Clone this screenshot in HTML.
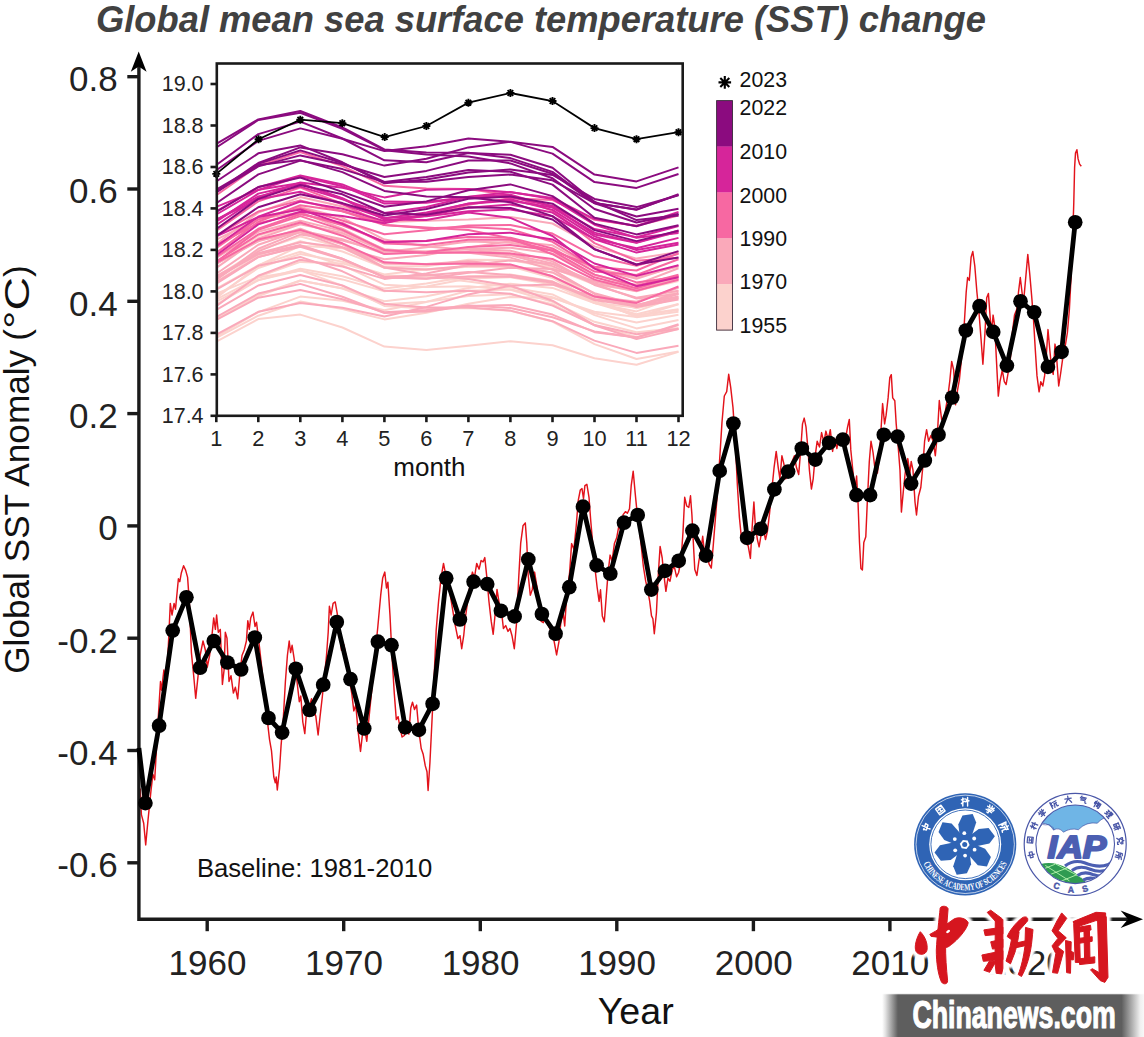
<!DOCTYPE html>
<html><head><meta charset="utf-8"><title>Global mean SST change</title>
<style>
html,body{margin:0;padding:0;background:#fff;}
body{width:1144px;height:1037px;overflow:hidden;font-family:"Liberation Sans",sans-serif;}
svg{display:block}
text{font-family:"Liberation Sans",sans-serif;}
</style></head><body>
<svg width="1144" height="1037" viewBox="0 0 1144 1037">
<rect width="1144" height="1037" fill="#fff"/>
<text x="96" y="31.5" font-size="36.3" font-weight="bold" font-style="italic" fill="#414141" textLength="890" lengthAdjust="spacingAndGlyphs">Global mean sea surface temperature (SST) change</text>
<polyline points="140.2,788.5 141.4,814.6 143.7,823.2 145.7,844.9 148.0,820.3 150.9,791.4 152.9,774.1 154.7,779.8 156.7,745.1 158.7,710.4 160.5,681.5 161.6,690.2 163.9,669.9 166.2,678.6 168.3,646.8 170.3,603.4 172.0,615.0 174.1,603.4 175.5,609.2 178.4,578.8 179.8,581.7 181.3,573.0 183.6,565.8 185.6,570.1 187.6,577.4 189.4,603.4 191.4,652.6 193.7,675.7 195.7,698.3 198.1,675.7 200.1,655.5 203.0,641.0 205.3,649.7 207.3,667.0 209.6,655.5 211.7,638.1 213.7,617.9 215.4,629.4 216.6,615.0 218.3,632.3 220.3,629.4 222.4,684.4 224.1,669.9 225.3,632.3 227.0,638.1 229.0,681.5 231.0,675.7 233.4,693.1 235.4,687.3 237.7,698.8 239.7,675.7 242.0,655.5 244.3,649.7 246.4,641.0 247.8,620.7 249.3,629.4 250.7,617.9 253.0,612.1 255.0,626.5 256.5,622.2 258.8,641.0 261.7,667.0 264.6,696.0 267.5,722.0 269.5,739.3 271.5,750.9 273.8,777.0 275.3,782.7 276.2,777.0 277.3,790.0 279.6,768.3 281.1,745.1 283.1,722.0 285.4,681.5 287.4,655.5 289.2,641.0 290.6,652.6 292.1,645.3 294.1,658.4 297.0,681.5 299.3,701.7 300.8,696.0 302.8,722.0 304.8,733.6 306.2,716.2 308.6,710.4 311.5,698.8 313.8,710.4 315.8,716.2 318.1,735.0 320.1,716.2 322.4,696.0 324.5,675.7 326.5,655.5 328.2,632.3 329.4,606.3 331.1,615.0 333.1,603.4 335.2,601.9 337.5,615.0 339.3,624.1 341.4,650.2 343.7,644.4 346.0,656.0 348.9,676.2 351.8,693.6 353.8,710.9 355.8,705.1 358.1,731.2 360.5,751.4 362.5,734.1 364.5,728.3 366.8,741.3 369.1,716.7 372.0,687.8 374.9,656.0 377.8,627.0 380.7,595.2 382.7,577.9 384.8,572.1 386.5,588.0 387.9,582.2 390.0,615.5 392.0,656.0 394.3,693.6 396.3,719.6 398.1,716.7 400.1,728.3 402.1,737.0 404.4,735.5 406.7,728.3 408.8,734.1 410.8,708.0 412.5,702.2 414.5,709.5 416.6,705.1 418.9,731.2 421.2,748.5 423.2,754.3 425.3,765.9 427.0,771.7 428.1,790.5 429.9,763.0 431.9,722.5 433.9,682.0 436.2,629.9 438.6,601.0 440.6,582.2 442.0,572.1 443.5,563.4 444.9,570.6 447.2,577.9 449.3,589.4 452.2,606.8 455.0,624.1 457.9,638.6 460.0,635.7 461.7,648.7 463.7,635.7 465.7,615.5 468.1,598.1 470.4,582.2 472.4,572.1 474.4,577.9 476.7,563.4 479.1,569.2 481.1,560.5 483.1,561.9 484.8,557.6 486.9,577.9 488.9,601.0 491.2,621.2 493.2,634.3 495.0,615.5 497.0,589.4 499.3,603.9 501.3,609.7 503.4,628.5 505.7,625.6 508.0,631.4 510.0,628.5 512.0,635.7 514.3,648.7 516.7,621.2 518.7,577.9 520.7,543.1 523.0,525.8 525.3,522.9 526.8,543.1 528.2,575.0 530.3,595.2 532.3,589.4 534.6,572.1 536.9,586.5 538.9,603.9 541.0,621.2 543.3,622.7 545.0,615.9 547.9,624.6 550.8,630.3 553.7,639.0 556.6,654.9 558.9,641.9 560.9,621.7 562.9,610.1 564.7,626.0 566.7,595.6 569.6,572.5 571.6,543.6 573.9,549.3 576.2,526.2 578.3,500.2 580.3,490.0 582.0,488.6 583.5,498.7 584.9,485.7 586.9,484.3 589.0,497.3 590.7,520.4 592.7,543.6 594.8,566.7 597.1,587.0 599.1,601.4 600.5,589.8 602.3,615.9 604.3,621.7 606.3,595.6 608.1,572.5 610.1,555.1 612.1,560.9 614.4,543.6 616.7,537.8 618.8,526.2 620.8,530.5 623.1,514.6 625.4,511.7 627.4,513.2 629.5,508.8 631.2,485.7 633.2,471.2 635.3,494.4 637.0,511.7 639.0,523.3 641.0,543.6 643.4,566.7 645.7,581.2 647.7,589.8 649.7,601.4 651.5,615.9 652.9,618.8 654.3,633.8 656.4,613.0 658.4,572.5 660.1,546.5 662.2,558.0 663.6,572.5 665.9,591.3 667.9,578.3 670.0,581.2 672.3,569.6 674.3,566.7 676.6,576.8 678.6,572.5 681.0,560.9 683.0,532.0 684.7,497.3 686.7,506.0 688.8,507.4 690.5,495.8 691.9,514.6 693.4,543.6 694.8,569.6 696.9,575.4 698.9,560.9 700.6,552.2 702.7,536.3 704.7,555.1 707.0,549.3 709.0,563.8 711.3,568.1 713.4,543.6 715.7,514.6 718.0,485.7 720.0,453.9 722.0,422.1 724.3,396.0 726.7,391.7 728.7,374.3 730.7,387.4 733.0,407.6 735.3,442.3 737.4,485.7 739.4,517.5 741.7,540.7 744.0,543.6 745.2,542.5 748.1,545.4 750.4,558.4 752.1,528.0 753.9,502.0 755.3,525.1 757.4,539.6 759.1,546.8 760.8,536.7 763.1,528.0 765.5,539.6 767.5,530.9 769.5,513.6 771.8,490.4 774.1,467.3 776.2,451.4 778.2,467.3 779.9,478.8 781.9,455.7 784.0,464.4 785.7,478.8 787.7,476.0 789.8,467.3 792.1,461.5 794.4,455.7 796.4,467.3 798.7,474.5 800.7,449.9 802.5,423.9 804.2,418.1 806.0,426.8 808.0,449.9 809.4,470.2 811.4,489.0 813.2,478.8 815.2,455.7 817.2,441.2 819.5,447.0 821.6,432.6 823.9,442.7 825.9,431.1 828.2,439.8 830.3,429.7 832.6,451.4 834.6,438.4 836.9,448.5 838.9,436.9 841.2,441.2 843.6,435.5 845.6,438.4 847.6,426.8 849.3,419.5 850.8,449.9 852.8,470.2 854.8,490.4 856.6,476.0 858.0,502.0 859.5,542.5 860.9,568.5 862.4,570.0 863.8,542.5 865.8,536.7 867.3,502.0 869.3,461.5 871.0,441.2 873.1,452.8 875.1,470.2 877.4,473.1 879.4,455.7 881.2,426.8 882.6,403.6 884.6,423.9 886.1,415.2 888.1,397.9 889.8,377.6 891.3,374.7 892.7,397.9 894.8,400.7 896.2,423.9 898.2,447.0 900.0,470.2 901.4,512.1 903.4,490.4 905.5,470.2 907.8,458.6 909.8,473.1 911.2,461.5 913.0,470.2 915.0,502.0 916.5,515.0 918.5,496.2 920.8,487.5 922.8,467.3 924.6,441.2 926.6,429.7 928.6,441.2 930.9,435.5 933.2,441.2 935.3,455.7 937.3,435.5 939.3,400.5 941.6,419.3 943.9,422.2 945.9,407.7 947.9,396.1 949.7,381.7 951.7,361.4 953.7,370.1 955.5,404.8 957.5,390.3 959.5,378.8 961.8,355.6 964.1,326.7 966.2,292.0 967.6,277.5 969.3,280.4 971.1,257.3 972.8,251.5 974.8,266.0 976.9,292.0 979.2,315.1 981.2,341.2 982.9,364.3 985.0,332.5 986.7,297.8 988.4,293.4 990.2,318.0 991.6,332.5 993.1,315.1 994.8,326.7 996.5,361.4 998.3,396.1 1000.0,381.7 1002.3,370.1 1004.3,381.7 1006.1,384.6 1008.1,373.0 1010.4,358.5 1012.4,332.5 1014.5,315.1 1016.8,309.3 1018.5,292.0 1020.3,277.5 1022.0,292.0 1023.4,303.6 1025.5,280.4 1027.8,254.4 1029.8,274.6 1031.8,297.8 1033.6,320.9 1035.3,349.8 1037.0,375.9 1039.1,391.8 1040.8,381.7 1042.8,386.0 1044.6,375.9 1046.3,355.6 1048.0,329.6 1049.8,349.8 1051.5,367.2 1053.2,374.4 1055.0,344.1 1056.7,358.5 1058.7,386.0 1060.7,373.0 1063.1,355.6 1065.1,347.0 1067.4,332.5 1069.4,309.3 1071.2,274.6 1072.6,239.9 1073.8,202.3 1074.6,167.6 1075.5,153.1 1076.9,149.7 1078.1,158.9 1079.6,164.1 1081.3,166.2" fill="none" stroke="#e3131b" stroke-width="1.45" stroke-linejoin="round"/>
<g stroke="#1a1a1a" stroke-width="3.4" fill="none"><path d="M138.9 66 V919.2 H1130"/><path d="M127.3 76.7 H139"/><path d="M127.3 189.0 H139"/><path d="M127.3 301.3 H139"/><path d="M127.3 413.6 H139"/><path d="M127.3 525.9 H139"/><path d="M127.3 638.2 H139"/><path d="M127.3 750.5 H139"/><path d="M127.3 862.8 H139"/><path d="M207.2 919 V931.2"/><path d="M343.7 919 V931.2"/><path d="M480.3 919 V931.2"/><path d="M616.8 919 V931.2"/><path d="M753.4 919 V931.2"/><path d="M889.9 919 V931.2"/><path d="M1026.5 919 V931.2"/></g>
<path d="M138.7 51.6 L146.6 71.8 L138.7 66.6 L130.8 71.8 Z" fill="#000"/><path d="M1143 919.2 L1120.6 910.4 L1128 919.2 L1120.6 928 Z" fill="#000"/>
<g font-size="35" fill="#222" text-anchor="end"><text x="117.6" y="91.0">0.8</text><text x="117.6" y="203.3">0.6</text><text x="117.6" y="315.6">0.4</text><text x="117.6" y="427.9">0.2</text><text x="117.6" y="540.2">0</text><text x="117.6" y="652.5">-0.2</text><text x="117.6" y="764.8">-0.4</text><text x="117.6" y="877.1">-0.6</text></g>
<g font-size="35" fill="#222" text-anchor="middle"><text x="207.5" y="975">1960</text><text x="344.0" y="975">1970</text><text x="480.6" y="975">1980</text><text x="617.1" y="975">1990</text><text x="753.7" y="975">2000</text><text x="890.2" y="975">2010</text><text x="1026.8" y="975">2020</text></g>
<text x="635.7" y="1024" font-size="36" fill="#111" text-anchor="middle" textLength="76" lengthAdjust="spacingAndGlyphs">Year</text>
<g transform="translate(28.9 673.8) rotate(-90)" font-size="35" fill="#111"><text x="0" y="0" textLength="324" lengthAdjust="spacingAndGlyphs">Global SST Anomaly</text><text x="333" y="0">(</text><text x="344.8" y="0" textLength="52" lengthAdjust="spacingAndGlyphs">°C</text><text x="396.8" y="0">)</text></g>
<text x="196.9" y="876.6" font-size="25.6" fill="#111" textLength="235.3" lengthAdjust="spacingAndGlyphs">Baseline: 1981-2010</text>
<polyline points="138.9,748 145.4,803.1 159.1,725.7 172.7,630.6 186.4,597.3 200.1,667.7 213.8,641.0 227.4,662.5 241.1,669.5 254.8,637.5 268.5,718.0 282.1,732.6 295.8,668.8 309.5,710.0 323.2,684.7 336.8,622.0 350.5,679.2 364.2,728.5 377.9,641.7 391.5,645.2 405.2,727.4 418.9,729.9 432.6,703.8 446.2,578.2 459.9,619.5 473.6,581.7 487.2,584.1 500.9,610.8 514.6,616.4 528.3,559.4 541.9,614.0 555.6,633.7 569.3,587.2 583.0,506.7 596.6,565.4 610.3,573.7 624.0,522.7 637.7,515.0 651.3,589.6 665.0,570.9 678.7,560.8 692.4,530.6 706.0,555.6 719.7,470.9 733.4,423.5 747.1,537.8 760.7,528.8 774.4,489.4 788.1,471.6 801.8,448.5 815.4,459.6 829.1,442.8 842.8,439.7 856.4,495.1 870.1,495.1 883.8,434.8 897.5,436.6 911.1,483.6 924.8,460.5 938.5,434.8 952.2,397.5 965.8,330.5 979.5,306.1 993.2,331.9 1006.9,365.6 1020.5,301.3 1034.2,312.3 1047.9,366.9 1061.6,351.8 1075.2,222.3" fill="none" stroke="#000" stroke-width="4.8" stroke-linejoin="round"/>
<g fill="#000"><circle cx="145.4" cy="803.1" r="7.35"/><circle cx="159.1" cy="725.7" r="7.35"/><circle cx="172.7" cy="630.6" r="7.35"/><circle cx="186.4" cy="597.3" r="7.35"/><circle cx="200.1" cy="667.7" r="7.35"/><circle cx="213.8" cy="641.0" r="7.35"/><circle cx="227.4" cy="662.5" r="7.35"/><circle cx="241.1" cy="669.5" r="7.35"/><circle cx="254.8" cy="637.5" r="7.35"/><circle cx="268.5" cy="718.0" r="7.35"/><circle cx="282.1" cy="732.6" r="7.35"/><circle cx="295.8" cy="668.8" r="7.35"/><circle cx="309.5" cy="710.0" r="7.35"/><circle cx="323.2" cy="684.7" r="7.35"/><circle cx="336.8" cy="622.0" r="7.35"/><circle cx="350.5" cy="679.2" r="7.35"/><circle cx="364.2" cy="728.5" r="7.35"/><circle cx="377.9" cy="641.7" r="7.35"/><circle cx="391.5" cy="645.2" r="7.35"/><circle cx="405.2" cy="727.4" r="7.35"/><circle cx="418.9" cy="729.9" r="7.35"/><circle cx="432.6" cy="703.8" r="7.35"/><circle cx="446.2" cy="578.2" r="7.35"/><circle cx="459.9" cy="619.5" r="7.35"/><circle cx="473.6" cy="581.7" r="7.35"/><circle cx="487.2" cy="584.1" r="7.35"/><circle cx="500.9" cy="610.8" r="7.35"/><circle cx="514.6" cy="616.4" r="7.35"/><circle cx="528.3" cy="559.4" r="7.35"/><circle cx="541.9" cy="614.0" r="7.35"/><circle cx="555.6" cy="633.7" r="7.35"/><circle cx="569.3" cy="587.2" r="7.35"/><circle cx="583.0" cy="506.7" r="7.35"/><circle cx="596.6" cy="565.4" r="7.35"/><circle cx="610.3" cy="573.7" r="7.35"/><circle cx="624.0" cy="522.7" r="7.35"/><circle cx="637.7" cy="515.0" r="7.35"/><circle cx="651.3" cy="589.6" r="7.35"/><circle cx="665.0" cy="570.9" r="7.35"/><circle cx="678.7" cy="560.8" r="7.35"/><circle cx="692.4" cy="530.6" r="7.35"/><circle cx="706.0" cy="555.6" r="7.35"/><circle cx="719.7" cy="470.9" r="7.35"/><circle cx="733.4" cy="423.5" r="7.35"/><circle cx="747.1" cy="537.8" r="7.35"/><circle cx="760.7" cy="528.8" r="7.35"/><circle cx="774.4" cy="489.4" r="7.35"/><circle cx="788.1" cy="471.6" r="7.35"/><circle cx="801.8" cy="448.5" r="7.35"/><circle cx="815.4" cy="459.6" r="7.35"/><circle cx="829.1" cy="442.8" r="7.35"/><circle cx="842.8" cy="439.7" r="7.35"/><circle cx="856.4" cy="495.1" r="7.35"/><circle cx="870.1" cy="495.1" r="7.35"/><circle cx="883.8" cy="434.8" r="7.35"/><circle cx="897.5" cy="436.6" r="7.35"/><circle cx="911.1" cy="483.6" r="7.35"/><circle cx="924.8" cy="460.5" r="7.35"/><circle cx="938.5" cy="434.8" r="7.35"/><circle cx="952.2" cy="397.5" r="7.35"/><circle cx="965.8" cy="330.5" r="7.35"/><circle cx="979.5" cy="306.1" r="7.35"/><circle cx="993.2" cy="331.9" r="7.35"/><circle cx="1006.9" cy="365.6" r="7.35"/><circle cx="1020.5" cy="301.3" r="7.35"/><circle cx="1034.2" cy="312.3" r="7.35"/><circle cx="1047.9" cy="366.9" r="7.35"/><circle cx="1061.6" cy="351.8" r="7.35"/><circle cx="1075.2" cy="222.3" r="7.35"/></g>
<g fill="none" stroke-width="2" stroke-linejoin="round"><polyline stroke="#fcd2cd" points="216.3,341.7 258.3,319.1 300.3,314.6 342.4,327.5 384.4,346.6 426.4,350.0 468.4,345.7 510.4,341.3 552.5,345.2 594.5,358.3 636.5,364.7 678.5,351.9"/><polyline stroke="#fcd2cd" points="216.3,336.6 258.3,312.1 300.3,296.6 342.4,300.8 384.4,310.2 426.4,301.9 468.4,290.8 510.4,289.4 552.5,297.2 594.5,313.2 636.5,322.6 678.5,314.7"/><polyline stroke="#fcd2cd" points="216.3,298.0 258.3,265.5 300.3,245.8 342.4,248.2 384.4,266.6 426.4,266.3 468.4,259.8 510.4,259.9 552.5,267.8 594.5,284.5 636.5,290.7 678.5,281.1"/><polyline stroke="#fcd2cd" points="216.3,264.0 258.3,235.9 300.3,223.2 342.4,233.7 384.4,251.2 426.4,251.4 468.4,248.7 510.4,253.4 552.5,268.5 594.5,299.1 636.5,317.2 678.5,311.8"/><polyline stroke="#fcd2cd" points="216.3,301.6 258.3,280.3 300.3,268.8 342.4,276.2 384.4,288.6 426.4,283.4 468.4,276.5 510.4,274.4 552.5,281.3 594.5,303.1 636.5,315.2 678.5,309.3"/><polyline stroke="#fcd2cd" points="216.3,296.1 258.3,268.0 300.3,254.0 342.4,261.8 384.4,274.5 426.4,269.2 468.4,266.4 510.4,267.1 552.5,272.4 594.5,297.1 636.5,308.2 678.5,298.3"/><polyline stroke="#fcd2cd" points="216.3,293.6 258.3,276.8 300.3,261.9 342.4,263.4 384.4,275.6 426.4,276.6 468.4,281.5 510.4,287.3 552.5,294.4 594.5,315.1 636.5,328.4 678.5,320.0"/><polyline stroke="#fcd2cd" points="216.3,304.7 258.3,279.9 300.3,270.6 342.4,279.4 384.4,291.2 426.4,286.4 468.4,278.5 510.4,277.2 552.5,284.4 594.5,302.9 636.5,311.4 678.5,296.4"/><polyline stroke="#fcd2cd" points="216.3,281.8 258.3,255.3 300.3,241.1 342.4,251.5 384.4,267.9 426.4,269.8 468.4,266.8 510.4,266.3 552.5,278.0 594.5,301.8 636.5,315.7 678.5,310.0"/><polyline stroke="#fcd2cd" points="216.3,299.3 258.3,277.6 300.3,270.4 342.4,285.6 384.4,305.9 426.4,308.6 468.4,308.0 510.4,310.8 552.5,321.5 594.5,344.1 636.5,359.0 678.5,351.5"/><polyline stroke="#fcd2cd" points="216.3,337.8 258.3,315.7 300.3,301.6 342.4,309.0 384.4,319.4 426.4,312.7 468.4,303.7 510.4,297.0 552.5,297.9 594.5,311.7 636.5,317.0 678.5,304.2"/><polyline stroke="#fcd2cd" points="216.3,288.7 258.3,265.3 300.3,251.7 342.4,265.3 384.4,284.7 426.4,287.0 468.4,286.2 510.4,289.8 552.5,301.8 594.5,321.8 636.5,332.3 678.5,328.1"/><polyline stroke="#fcd2cd" points="216.3,318.3 258.3,294.8 300.3,280.5 342.4,288.6 384.4,304.2 426.4,301.8 468.4,296.0 510.4,294.3 552.5,304.2 594.5,325.3 636.5,337.0 678.5,328.9"/><polyline stroke="#fcd2cd" points="216.3,318.6 258.3,296.0 300.3,280.7 342.4,288.2 384.4,301.2 426.4,296.3 468.4,288.0 510.4,283.8 552.5,287.9 594.5,303.0 636.5,307.6 678.5,290.4"/><polyline stroke="#fcd2cd" points="216.3,276.7 258.3,250.3 300.3,236.5 342.4,247.2 384.4,263.5 426.4,264.9 468.4,263.1 510.4,265.2 552.5,276.7 594.5,302.3 636.5,314.3 678.5,304.0"/><polyline stroke="#faa9ba" points="216.3,289.6 258.3,265.8 300.3,256.9 342.4,271.3 384.4,290.8 426.4,292.3 468.4,290.7 510.4,293.7 552.5,305.6 594.5,325.1 636.5,334.3 678.5,328.7"/><polyline stroke="#faa9ba" points="216.3,319.8 258.3,297.7 300.3,290.0 342.4,299.2 384.4,312.3 426.4,310.0 468.4,305.5 510.4,307.9 552.5,317.2 594.5,331.4 636.5,337.6 678.5,324.2"/><polyline stroke="#faa9ba" points="216.3,306.1 258.3,275.7 300.3,259.7 342.4,266.5 384.4,278.9 426.4,273.6 468.4,265.1 510.4,260.4 552.5,264.1 594.5,281.8 636.5,289.3 678.5,278.8"/><polyline stroke="#faa9ba" points="216.3,263.5 258.3,241.4 300.3,228.8 342.4,244.1 384.4,267.6 426.4,274.7 468.4,278.9 510.4,285.7 552.5,300.7 594.5,325.2 636.5,339.1 678.5,329.1"/><polyline stroke="#faa9ba" points="216.3,317.0 258.3,293.5 300.3,283.9 342.4,296.7 384.4,313.0 426.4,311.6 468.4,306.1 510.4,305.1 552.5,314.6 594.5,332.2 636.5,337.4 678.5,325.1"/><polyline stroke="#faa9ba" points="216.3,309.9 258.3,285.5 300.3,275.0 342.4,285.5 384.4,303.9 426.4,307.6 468.4,307.4 510.4,310.6 552.5,321.2 594.5,340.6 636.5,352.9 678.5,345.8"/><polyline stroke="#faa9ba" points="216.3,334.6 258.3,311.8 300.3,303.0 342.4,307.8 384.4,316.4 426.4,306.9 468.4,294.4 510.4,285.7 552.5,284.6 594.5,296.4 636.5,301.8 678.5,287.7"/><polyline stroke="#faa9ba" points="216.3,267.9 258.3,238.5 300.3,224.2 342.4,233.1 384.4,251.0 426.4,251.6 468.4,248.8 510.4,250.7 552.5,261.4 594.5,285.0 636.5,297.8 678.5,290.8"/><polyline stroke="#faa9ba" points="216.3,277.7 258.3,254.3 300.3,245.1 342.4,258.6 384.4,277.0 426.4,275.3 468.4,271.9 510.4,275.0 552.5,281.7 594.5,299.3 636.5,305.6 678.5,292.6"/><polyline stroke="#faa9ba" points="216.3,273.8 258.3,244.8 300.3,230.5 342.4,239.2 384.4,253.7 426.4,251.9 468.4,249.0 510.4,247.7 552.5,253.4 594.5,274.7 636.5,286.0 678.5,276.2"/><polyline stroke="#faa9ba" points="216.3,257.9 258.3,231.8 300.3,220.7 342.4,231.1 384.4,249.2 426.4,252.3 468.4,252.8 510.4,257.6 552.5,269.7 594.5,294.0 636.5,307.0 678.5,299.5"/><polyline stroke="#faa9ba" points="216.3,279.7 258.3,248.7 300.3,231.9 342.4,244.4 384.4,263.6 426.4,264.1 468.4,261.2 510.4,265.1 552.5,276.3 594.5,296.3 636.5,306.4 678.5,298.1"/><polyline stroke="#faa9ba" points="216.3,283.6 258.3,257.1 300.3,245.8 342.4,258.8 384.4,277.4 426.4,278.7 468.4,272.8 510.4,267.8 552.5,269.0 594.5,281.3 636.5,284.4 678.5,268.2"/><polyline stroke="#faa9ba" points="216.3,248.1 258.3,219.0 300.3,206.9 342.4,217.8 384.4,239.6 426.4,246.5 468.4,249.8 510.4,254.0 552.5,263.4 594.5,283.4 636.5,291.2 678.5,278.9"/><polyline stroke="#faa9ba" points="216.3,263.8 258.3,240.5 300.3,232.4 342.4,247.4 384.4,267.6 426.4,269.6 468.4,265.7 510.4,265.7 552.5,272.4 594.5,293.2 636.5,304.8 678.5,296.6"/><polyline stroke="#faa9ba" points="216.3,282.1 258.3,257.0 300.3,246.7 342.4,259.3 384.4,277.2 426.4,278.4 468.4,276.6 510.4,276.8 552.5,282.7 594.5,300.0 636.5,306.3 678.5,294.1"/><polyline stroke="#faa9ba" points="216.3,276.2 258.3,253.2 300.3,242.3 342.4,247.4 384.4,259.3 426.4,254.9 468.4,247.4 510.4,241.3 552.5,245.3 594.5,268.3 636.5,278.7 678.5,265.4"/><polyline stroke="#faa9ba" points="216.3,244.0 258.3,212.6 300.3,197.1 342.4,206.4 384.4,221.9 426.4,220.8 468.4,219.6 510.4,217.1 552.5,223.5 594.5,246.4 636.5,258.6 678.5,251.9"/><polyline stroke="#faa9ba" points="216.3,239.7 258.3,219.0 300.3,212.4 342.4,228.6 384.4,250.0 426.4,252.7 468.4,252.3 510.4,255.4 552.5,266.1 594.5,284.0 636.5,298.6 678.5,293.8"/><polyline stroke="#faa9ba" points="216.3,279.5 258.3,251.4 300.3,234.6 342.4,240.5 384.4,251.9 426.4,247.2 468.4,241.5 510.4,242.7 552.5,249.4 594.5,268.3 636.5,276.9 678.5,266.5"/><polyline stroke="#f768a2" points="216.3,247.7 258.3,219.4 300.3,208.2 342.4,220.5 384.4,234.2 426.4,230.3 468.4,225.5 510.4,225.0 552.5,233.6 594.5,256.3 636.5,265.8 678.5,253.9"/><polyline stroke="#f768a2" points="216.3,230.6 258.3,201.4 300.3,187.6 342.4,203.8 384.4,225.1 426.4,228.2 468.4,226.9 510.4,229.3 552.5,241.8 594.5,268.0 636.5,282.4 678.5,276.7"/><polyline stroke="#f768a2" points="216.3,262.9 258.3,239.5 300.3,229.9 342.4,243.3 384.4,262.3 426.4,264.3 468.4,263.5 510.4,264.4 552.5,276.3 594.5,296.6 636.5,302.9 678.5,286.5"/><polyline stroke="#f768a2" points="216.3,262.2 258.3,229.9 300.3,216.1 342.4,229.9 384.4,250.1 426.4,252.9 468.4,252.2 510.4,253.4 552.5,259.0 594.5,279.6 636.5,290.6 678.5,279.7"/><polyline stroke="#f768a2" points="216.3,261.4 258.3,234.5 300.3,222.5 342.4,235.7 384.4,254.1 426.4,252.3 468.4,247.1 510.4,245.0 552.5,250.6 594.5,266.7 636.5,270.5 678.5,253.2"/><polyline stroke="#f768a2" points="216.3,235.7 258.3,211.5 300.3,200.4 342.4,211.2 384.4,225.0 426.4,227.4 468.4,230.1 510.4,238.3 552.5,254.2 594.5,277.3 636.5,288.2 678.5,276.0"/><polyline stroke="#f768a2" points="216.3,256.9 258.3,228.8 300.3,214.3 342.4,223.0 384.4,243.5 426.4,244.9 468.4,239.7 510.4,239.7 552.5,251.0 594.5,274.6 636.5,285.7 678.5,274.6"/><polyline stroke="#f768a2" points="216.3,252.9 258.3,221.8 300.3,205.2 342.4,211.3 384.4,222.6 426.4,215.5 468.4,204.8 510.4,198.2 552.5,200.0 594.5,219.8 636.5,225.7 678.5,215.6"/><polyline stroke="#f768a2" points="216.3,195.2 258.3,165.7 300.3,152.0 342.4,166.1 384.4,185.8 426.4,188.4 468.4,188.9 510.4,195.2 552.5,210.8 594.5,243.1 636.5,260.8 678.5,257.7"/><polyline stroke="#f768a2" points="216.3,245.0 258.3,223.2 300.3,213.3 342.4,225.2 384.4,241.7 426.4,240.8 468.4,237.0 510.4,237.7 552.5,248.4 594.5,271.6 636.5,275.0 678.5,259.2"/><polyline stroke="#d6259a" points="216.3,236.3 258.3,217.1 300.3,209.5 342.4,223.9 384.4,242.2 426.4,240.9 468.4,234.3 510.4,232.7 552.5,239.4 594.5,263.5 636.5,275.9 678.5,265.2"/><polyline stroke="#d6259a" points="216.3,246.2 258.3,216.7 300.3,201.5 342.4,208.7 384.4,221.1 426.4,215.8 468.4,207.7 510.4,204.4 552.5,212.6 594.5,239.4 636.5,252.6 678.5,244.6"/><polyline stroke="#d6259a" points="216.3,221.7 258.3,193.6 300.3,184.0 342.4,198.2 384.4,218.0 426.4,216.3 468.4,211.2 510.4,209.4 552.5,216.3 594.5,238.8 636.5,248.2 678.5,237.9"/><polyline stroke="#d6259a" points="216.3,219.9 258.3,196.4 300.3,186.6 342.4,199.4 384.4,213.1 426.4,207.0 468.4,196.7 510.4,192.1 552.5,198.9 594.5,224.7 636.5,237.8 678.5,233.1"/><polyline stroke="#d6259a" points="216.3,219.7 258.3,199.2 300.3,191.7 342.4,204.0 384.4,218.2 426.4,212.5 468.4,203.8 510.4,200.8 552.5,207.6 594.5,232.6 636.5,242.6 678.5,230.4"/><polyline stroke="#d6259a" points="216.3,211.3 258.3,187.2 300.3,175.4 342.4,184.4 384.4,201.6 426.4,202.1 468.4,196.9 510.4,194.8 552.5,206.7 594.5,234.4 636.5,242.8 678.5,231.5"/><polyline stroke="#d6259a" points="216.3,214.5 258.3,190.0 300.3,176.2 342.4,186.2 384.4,203.6 426.4,202.8 468.4,197.6 510.4,197.0 552.5,205.9 594.5,229.1 636.5,237.2 678.5,226.0"/><polyline stroke="#d6259a" points="216.3,206.9 258.3,189.8 300.3,183.1 342.4,198.7 384.4,219.5 426.4,220.1 468.4,212.4 510.4,217.9 552.5,236.0 594.5,268.6 636.5,286.2 678.5,277.3"/><polyline stroke="#d6259a" points="216.3,255.2 258.3,224.4 300.3,211.8 342.4,216.0 384.4,223.2 426.4,213.7 468.4,203.4 510.4,199.2 552.5,209.9 594.5,236.4 636.5,250.1 678.5,242.7"/><polyline stroke="#d6259a" points="216.3,225.0 258.3,197.5 300.3,182.5 342.4,187.8 384.4,197.4 426.4,189.7 468.4,189.0 510.4,192.2 552.5,197.9 594.5,219.1 636.5,225.9 678.5,211.9"/><polyline stroke="#8b0b7f" points="216.3,189.5 258.3,165.0 300.3,160.1 342.4,172.1 384.4,190.9 426.4,196.6 468.4,197.3 510.4,202.2 552.5,216.1 594.5,249.2 636.5,264.7 678.5,251.1"/><polyline stroke="#8b0b7f" points="216.3,229.0 258.3,198.9 300.3,185.0 342.4,194.3 384.4,213.0 426.4,214.7 468.4,207.2 510.4,208.0 552.5,219.5 594.5,249.1 636.5,264.5 678.5,257.4"/><polyline stroke="#8b0b7f" points="216.3,236.1 258.3,207.2 300.3,194.2 342.4,203.1 384.4,215.5 426.4,209.0 468.4,198.8 510.4,196.4 552.5,203.7 594.5,230.1 636.5,241.1 678.5,230.7"/><polyline stroke="#8b0b7f" points="216.3,211.8 258.3,187.0 300.3,177.5 342.4,191.9 384.4,206.7 426.4,201.4 468.4,190.2 510.4,184.4 552.5,196.1 594.5,223.6 636.5,234.4 678.5,225.3"/><polyline stroke="#8b0b7f" points="216.3,203.2 258.3,174.4 300.3,160.6 342.4,169.1 384.4,182.1 426.4,176.9 468.4,169.9 510.4,171.7 552.5,184.6 594.5,217.7 636.5,226.2 678.5,214.1"/><polyline stroke="#8b0b7f" points="216.3,191.9 258.3,163.0 300.3,147.4 342.4,154.2 384.4,165.6 426.4,158.7 468.4,147.4 510.4,141.7 552.5,146.9 594.5,174.6 636.5,181.4 678.5,167.4"/><polyline stroke="#8b0b7f" points="216.3,143.9 258.3,119.4 300.3,111.0 342.4,127.5 384.4,149.4 426.4,152.6 468.4,152.7 510.4,158.1 552.5,171.9 594.5,202.9 636.5,209.8 678.5,194.2"/><polyline stroke="#8b0b7f" points="216.3,165.0 258.3,134.1 300.3,121.6 342.4,138.5 384.4,160.3 426.4,162.2 468.4,153.0 510.4,154.8 552.5,167.8 594.5,201.7 636.5,220.1 678.5,215.5"/><polyline stroke="#8b0b7f" points="216.3,192.3 258.3,163.9 300.3,150.4 342.4,163.0 384.4,182.0 426.4,181.8 468.4,177.0 510.4,174.6 552.5,180.3 594.5,203.1 636.5,209.4 678.5,194.9"/><polyline stroke="#8b0b7f" points="216.3,170.3 258.3,140.9 300.3,128.4 342.4,138.7 384.4,151.1 426.4,146.2 468.4,138.6 510.4,141.9 552.5,153.6 594.5,182.1 636.5,187.9 678.5,174.0"/><polyline stroke="#8b0b7f" points="216.3,147.5 258.3,120.0 300.3,112.8 342.4,128.8 384.4,150.2 426.4,154.6 468.4,156.4 510.4,163.4 552.5,178.2 594.5,209.0 636.5,222.5 678.5,213.9"/><polyline stroke="#8b0b7f" points="216.3,191.7 258.3,166.4 300.3,155.4 342.4,164.3 384.4,177.0 426.4,170.9 468.4,160.5 510.4,160.5 552.5,173.7 594.5,203.3 636.5,216.5 678.5,208.8"/><polyline stroke="#8b0b7f" points="216.3,181.5 258.3,153.3 300.3,145.4 342.4,162.3 384.4,183.3 426.4,179.6 468.4,172.5 510.4,169.4 552.5,175.0 594.5,198.9 636.5,207.1 678.5,195.2"/></g>
<polyline points="216.3,173.9 258.6,139.2 300.3,119.7 342.3,123.2 384.7,137.1 426.4,126.0 468.4,102.7 510.4,93.0 552.5,101.0 594.5,128.1 636.5,139.2 678.5,132.2" fill="none" stroke="#000" stroke-width="1.8"/><path d="M212.3 173.9L220.3 173.9M213.5 171.1L219.1 176.7M216.3 169.9L216.3 177.9M219.1 171.1L213.5 176.7" stroke="#000" stroke-width="1.9" fill="none"/><path d="M254.6 139.2L262.6 139.2M255.8 136.4L261.4 142.0M258.6 135.2L258.6 143.2M261.4 136.4L255.8 142.0" stroke="#000" stroke-width="1.9" fill="none"/><path d="M296.3 119.7L304.3 119.7M297.5 116.9L303.1 122.5M300.3 115.7L300.3 123.7M303.1 116.9L297.5 122.5" stroke="#000" stroke-width="1.9" fill="none"/><path d="M338.3 123.2L346.3 123.2M339.5 120.4L345.1 126.0M342.3 119.2L342.3 127.2M345.1 120.4L339.5 126.0" stroke="#000" stroke-width="1.9" fill="none"/><path d="M380.7 137.1L388.7 137.1M381.9 134.3L387.5 139.9M384.7 133.1L384.7 141.1M387.5 134.3L381.9 139.9" stroke="#000" stroke-width="1.9" fill="none"/><path d="M422.4 126.0L430.4 126.0M423.6 123.2L429.2 128.8M426.4 122.0L426.4 130.0M429.2 123.2L423.6 128.8" stroke="#000" stroke-width="1.9" fill="none"/><path d="M464.4 102.7L472.4 102.7M465.6 99.9L471.2 105.5M468.4 98.7L468.4 106.7M471.2 99.9L465.6 105.5" stroke="#000" stroke-width="1.9" fill="none"/><path d="M506.4 93.0L514.4 93.0M507.6 90.2L513.2 95.8M510.4 89.0L510.4 97.0M513.2 90.2L507.6 95.8" stroke="#000" stroke-width="1.9" fill="none"/><path d="M548.5 101.0L556.5 101.0M549.7 98.2L555.3 103.8M552.5 97.0L552.5 105.0M555.3 98.2L549.7 103.8" stroke="#000" stroke-width="1.9" fill="none"/><path d="M590.5 128.1L598.5 128.1M591.7 125.3L597.3 130.9M594.5 124.1L594.5 132.1M597.3 125.3L591.7 130.9" stroke="#000" stroke-width="1.9" fill="none"/><path d="M632.5 139.2L640.5 139.2M633.7 136.4L639.3 142.0M636.5 135.2L636.5 143.2M639.3 136.4L633.7 142.0" stroke="#000" stroke-width="1.9" fill="none"/><path d="M674.5 132.2L682.5 132.2M675.7 129.4L681.3 135.0M678.5 128.2L678.5 136.2M681.3 129.4L675.7 135.0" stroke="#000" stroke-width="1.9" fill="none"/>
<g stroke="#1a1a1a" stroke-width="2.6" fill="none"><rect x="216.8" y="63.5" width="465.9" height="352.3"/><path d="M210.5 84.0 H216.8"/><path d="M210.5 125.5 H216.8"/><path d="M210.5 167.0 H216.8"/><path d="M210.5 208.4 H216.8"/><path d="M210.5 249.9 H216.8"/><path d="M210.5 291.4 H216.8"/><path d="M210.5 332.9 H216.8"/><path d="M210.5 374.4 H216.8"/><path d="M210.5 415.8 H216.8"/><path d="M216.3 415.8 V422.2"/><path d="M258.3 415.8 V422.2"/><path d="M300.3 415.8 V422.2"/><path d="M342.4 415.8 V422.2"/><path d="M384.4 415.8 V422.2"/><path d="M426.4 415.8 V422.2"/><path d="M468.4 415.8 V422.2"/><path d="M510.4 415.8 V422.2"/><path d="M552.5 415.8 V422.2"/><path d="M594.5 415.8 V422.2"/><path d="M636.5 415.8 V422.2"/><path d="M678.5 415.8 V422.2"/></g>
<g font-size="21.5" fill="#222" text-anchor="end"><text x="203.6" y="91.2">19.0</text><text x="203.6" y="132.7">18.8</text><text x="203.6" y="174.2">18.6</text><text x="203.6" y="215.6">18.4</text><text x="203.6" y="257.1">18.2</text><text x="203.6" y="298.6">18.0</text><text x="203.6" y="340.1">17.8</text><text x="203.6" y="381.6">17.6</text><text x="203.6" y="423.0">17.4</text></g>
<g font-size="21.8" fill="#222" text-anchor="middle"><text x="216.3" y="445.8">1</text><text x="258.3" y="445.8">2</text><text x="300.3" y="445.8">3</text><text x="342.4" y="445.8">4</text><text x="384.4" y="445.8">5</text><text x="426.4" y="445.8">6</text><text x="468.4" y="445.8">7</text><text x="510.4" y="445.8">8</text><text x="552.5" y="445.8">9</text><text x="594.5" y="445.8">10</text><text x="636.5" y="445.8">11</text><text x="678.5" y="445.8">12</text></g>
<text x="429.4" y="476" font-size="26" fill="#111" text-anchor="middle">month</text>
<rect x="716.6" y="100.6" width="15.9" height="46.2" fill="#8b0b7f"/><rect x="716.6" y="146.5" width="15.9" height="46.2" fill="#d6259a"/><rect x="716.6" y="192.4" width="15.9" height="46.2" fill="#f768a2"/><rect x="716.6" y="238.3" width="15.9" height="46.2" fill="#faa9ba"/><rect x="716.6" y="284.2" width="15.9" height="46.2" fill="#fcd2cd"/><rect x="716.6" y="100.6" width="15.9" height="229.5" fill="none" stroke="#3a2a3a" stroke-width="0.9"/><path d="M718.5 82.4L731.1 82.4M720.3 77.9L729.3 86.9M724.8 76.1L724.8 88.7M729.3 77.9L720.3 86.9" stroke="#000" stroke-width="2.1" fill="none"/><g font-size="21.3" fill="#111"><text x="739.6" y="86.6">2023</text><text x="739.6" y="114.5">2022</text><text x="739.6" y="159.3">2010</text><text x="739.6" y="202.7">2000</text><text x="739.6" y="246">1990</text><text x="739.6" y="289.4">1970</text><text x="739.6" y="332.7">1955</text></g>
<defs>
<linearGradient id="wmbar" x1="880" x2="1144" y1="0" y2="0" gradientUnits="userSpaceOnUse">
<stop offset="0" stop-color="#fff"/><stop offset="0.008" stop-color="#fff"/><stop offset="0.02" stop-color="#e4e4e4"/><stop offset="0.068" stop-color="#5e5e5e"/><stop offset="0.915" stop-color="#5e5e5e"/><stop offset="0.985" stop-color="#efefef"/><stop offset="1" stop-color="#f8f8f8"/>
</linearGradient>
<linearGradient id="wmtop" x1="0" x2="0" y1="992.3" y2="995.3" gradientUnits="userSpaceOnUse">
<stop offset="0" stop-color="#fff" stop-opacity="1"/><stop offset="1" stop-color="#fff" stop-opacity="0"/>
</linearGradient>
<filter id="wmblur" x="-5%" y="-5%" width="110%" height="110%"><feGaussianBlur stdDeviation="0.8"/></filter>
</defs>
<g>
<circle cx="965.2" cy="844.3" r="51.1" fill="#2f64b5"/>
<circle cx="965.2" cy="844.3" r="49.2" fill="none" stroke="#fff" stroke-width="0.7"/>
<circle cx="965.2" cy="844.3" r="36" fill="#fff"/>
<circle cx="965.2" cy="844.3" r="34.3" fill="none" stroke="#2f64b5" stroke-width="0.9"/>
<polygon points="960.1,838.8 958.3,824.5 962.5,815.5 972.7,814.1 976.2,822.6 970.4,840.0" fill="#2f64b5"/>
<polygon points="967.2,837.6 978.7,828.9 988.6,828.0 994.9,836.2 989.4,843.5 971.4,847.2" fill="#2f64b5"/>
<polygon points="971.8,843.2 985.1,848.8 990.9,856.9 986.9,866.5 977.8,865.3 965.6,851.6" fill="#2f64b5"/>
<polygon points="969.3,850.0 971.1,864.3 966.9,873.3 956.7,874.7 953.2,866.2 959.0,848.8" fill="#2f64b5"/>
<polygon points="962.2,851.2 950.7,859.9 940.8,860.8 934.5,852.6 940.0,845.3 958.0,841.6" fill="#2f64b5"/>
<polygon points="957.6,845.6 944.3,840.0 938.5,831.9 942.5,822.3 951.6,823.5 963.8,837.2" fill="#2f64b5"/>
<circle cx="964.7" cy="844.4" r="9" fill="#2f64b5"/>
<circle cx="964.3" cy="833.2" r="1.9" fill="#fff"/>
<circle cx="974.2" cy="838.5" r="1.9" fill="#fff"/>
<circle cx="974.6" cy="849.7" r="1.9" fill="#fff"/>
<circle cx="965.1" cy="855.6" r="1.9" fill="#fff"/>
<circle cx="955.2" cy="850.3" r="1.9" fill="#fff"/>
<circle cx="954.8" cy="839.1" r="1.9" fill="#fff"/>
<polygon points="969.6,845.1 966.5,848.9 961.7,848.3 959.8,843.7 962.9,839.9 967.7,840.5" fill="#fff"/>
<circle cx="964.7" cy="844.4" r="2.5" fill="#2f64b5"/>
<path id="casarc" d="M921.97 860.03 A46.0 46.0 0 0 0 1008.43 860.03" fill="none"/>
<text font-family="Liberation Serif" font-weight="bold" font-size="9.6" fill="#fff" style="font-family:'Liberation Serif',serif"><textPath href="#casarc" startOffset="50%" text-anchor="middle" textLength="105" lengthAdjust="spacingAndGlyphs">CHINESE ACADEMY OF SCIENCES</textPath></text>
<path transform="translate(926.1 827.3) rotate(-66.5)" d="M-3.3 -1.4 L3.3 -1.9M-2.8 -1.4 L-2.4 1.4 L2.8 0.9M3.3 -1.9 L2.8 0.9M0.0 -4.3 L0.0 4.3" fill="none" stroke="#fff" stroke-width="1.4" stroke-linecap="round" stroke-linejoin="round"/>
<path transform="translate(940.2 809.8) rotate(-36.0)" d="M-3.3 -3.3 L-3.3 3.8M-3.3 -3.3 L3.3 -3.3 L3.3 3.8M-3.3 3.8 L3.3 3.8M-1.9 -0.9 L1.9 -0.9M0.0 -1.9 L0.0 1.9M-1.9 1.9 L1.9 1.9" fill="none" stroke="#fff" stroke-width="1.4" stroke-linecap="round" stroke-linejoin="round"/>
<path transform="translate(965.2 801.7) rotate(0.0)" d="M-3.8 -1.9 L-0.9 -2.8M-2.4 -3.8 L-2.4 4.3M-3.8 1.9 L-0.9 -0.5M0.5 -2.8 L1.4 -1.4M0.0 0.0 L3.8 -0.9M2.4 -4.3 L2.4 4.3" fill="none" stroke="#fff" stroke-width="1.4" stroke-linecap="round" stroke-linejoin="round"/>
<path transform="translate(989.9 809.6) rotate(35.5)" d="M-2.8 -3.8 L-1.9 -2.4M0.0 -4.3 L0.5 -2.7M2.8 -3.8 L1.9 -2.4M-3.8 -1.4 L3.8 -1.7 L3.3 -0.3M-1.9 0.5 L1.9 0.0 L0.0 1.4 L0.3 3.8 L-1.1 3.8M-3.3 1.9 L3.3 1.5" fill="none" stroke="#fff" stroke-width="1.4" stroke-linecap="round" stroke-linejoin="round"/>
<path transform="translate(1004.1 827.0) rotate(66.0)" d="M-3.8 -3.8 L-3.8 4.3M-3.8 -3.8 L-1.9 -2.8 L-3.3 -0.5 L-1.9 0.9 L-3.6 1.9M0.5 -4.3 L0.9 -3.3M-0.9 -2.4 L3.8 -2.8 L3.4 -1.7M-0.5 -0.5 L3.3 -0.9M0.5 -0.5 L-0.9 3.8M2.4 -0.8 L2.4 3.3 L4.1 3.6" fill="none" stroke="#fff" stroke-width="1.4" stroke-linecap="round" stroke-linejoin="round"/>
</g>
<g>
<circle cx="1075.2" cy="844.3" r="51" fill="#fff" stroke="#4a57a8" stroke-width="1.2"/>
<clipPath id="iapclip"><circle cx="1075.2" cy="844.3" r="39.2"/></clipPath>
<g clip-path="url(#iapclip)">
<path d="M1041.8 823.2 A39.3 39.3 0 0 1 1104.7 817.7 Q1100.0 819.7 1097.4 823.2 Q1086.2 821.4 1078.4 829.7 Q1070.5 827.6 1063.4 832.2 Q1059.5 826.9 1053.4 829.9 Q1049.7 823.4 1041.8 823.2 Z" fill="#6fb5e6"/>
<path d="M1104.7 817.7 Q1100.0 819.7 1097.4 823.2 Q1086.2 821.4 1078.4 829.7 Q1070.5 827.6 1063.4 832.2 Q1059.5 826.9 1053.4 829.9 Q1049.7 823.4 1041.8 823.2" fill="none" stroke="#4a57a8" stroke-width="0.7"/>
<path d="M1039.9 826.7 Q1042.2 823.2 1045.7 824.9 Q1049.7 823.2 1051.8 826.7 Q1054.3 827.2 1053.8 830.4" fill="none" stroke="#4a57a8" stroke-width="0.6"/>
<path d="M1040.7 863.9 Q1053.8 860.8 1066.5 867.7 Q1078.1 873.9 1085.8 882.0 L1079.8 889.1 L1038.1 877.6 Z" fill="#2f9b52"/>
<path d="M1045.3 865.4 L1069.4 880.8 M1054.3 863.2 L1081.5 877.6 M1049.7 874.7 L1067.3 867.9 M1060.7 881.3 L1078.4 874.1 M1042.2 869.5 L1054.9 864.3" stroke="#b9f5b0" stroke-width="0.9" fill="none"/>
<g fill="none" stroke="#4c5fb2" stroke-width="3.1" stroke-linecap="butt">
<path d="M1065.0 866.0 Q1074.0 859.1 1084.4 862.8 Q1098.3 868.3 1107.6 864.8 Q1112.2 862.8 1115.7 857.9"/>
<path d="M1071.9 870.4 Q1079.8 864.8 1090.2 869.2 Q1100.6 873.5 1111.0 868.5 Q1113.4 866.6 1115.7 864.8"/>
<path d="M1077.5 875.5 Q1084.4 870.6 1093.7 874.8 Q1102.9 878.1 1109.9 873.5"/>
<path d="M1083.0 880.1 Q1090.2 876.4 1097.7 879.7 Q1102.9 881.3 1107.6 878.1"/>
</g>
</g>
<circle cx="1075.2" cy="844.3" r="39.3" fill="none" stroke="#4a57a8" stroke-width="1.1"/>
<text transform="translate(1047.6 858.0) scale(1.2 1)" font-size="31" font-weight="bold" font-style="italic" fill="#4c5fb2" stroke="#4c5fb2" stroke-width="1.9" stroke-linejoin="round" textLength="49" lengthAdjust="spacingAndGlyphs">IAP</text>
<path id="iaparc" d="M1047.44 883.95 A48.4 48.4 0 0 0 1102.96 883.95" fill="none"/>
<rect x="1055.2" y="881.8" width="40" height="9" fill="#fff" opacity="0"/>
<text font-size="8.8" font-weight="bold" fill="#4a57a8" stroke="#4a57a8" stroke-width="0.4" letter-spacing="9.2"><textPath href="#iaparc" startOffset="50%" text-anchor="middle">CAS</textPath></text>
<path transform="translate(1031.2 854.8) rotate(256.6)" d="M-2.8 -1.4 L2.8 -1.4 L2.8 1.4 L-2.8 1.4 L-2.8 -1.4M0.0 -3.2 L0.0 3.2" fill="none" stroke="#4a57a8" stroke-width="1.25" stroke-linecap="round" stroke-linejoin="round"/>
<path transform="translate(1030.2 840.0) rotate(275.5)" d="M-2.8 -2.8 L2.8 -2.8 L2.8 2.8 L-2.8 2.8 L-2.8 -2.8M-1.4 -0.9 L1.4 -0.9M0.0 -0.9 L0.0 1.4M-1.7 1.4 L1.7 1.4" fill="none" stroke="#4a57a8" stroke-width="1.25" stroke-linecap="round" stroke-linejoin="round"/>
<path transform="translate(1034.0 825.6) rotate(294.4)" d="M-3.2 -1.4 L-0.5 -1.4M-1.8 -3.2 L-1.8 3.2M-3.2 1.4 L-0.7 -0.5M0.5 0.2 L3.2 -0.3M2.0 -3.2 L2.0 3.2M0.7 -2.3 L1.3 -1.4" fill="none" stroke="#4a57a8" stroke-width="1.25" stroke-linecap="round" stroke-linejoin="round"/>
<path transform="translate(1042.3 813.3) rotate(313.3)" d="M-2.3 -3.2 L-1.7 -2.1M0.0 -3.5 L0.0 -2.3M2.3 -3.2 L1.7 -2.1M-3.2 -1.4 L3.2 -1.4M-1.4 0.0 L1.4 0.0 L0.0 1.1 L0.0 3.2M-2.9 1.5 L2.9 1.5" fill="none" stroke="#4a57a8" stroke-width="1.25" stroke-linecap="round" stroke-linejoin="round"/>
<path transform="translate(1054.1 804.3) rotate(332.2)" d="M-3.2 -3.2 L-3.2 3.2M-3.2 -3.2 L-1.8 -2.3 L-3.0 -0.5 L-1.8 0.9M-0.5 -2.3 L3.2 -2.3M0.0 -0.5 L2.8 -0.5M0.7 -0.5 L-0.7 3.2M2.0 -0.5 L2.0 2.8 L3.3 2.9" fill="none" stroke="#4a57a8" stroke-width="1.25" stroke-linecap="round" stroke-linejoin="round"/>
<path transform="translate(1068.2 799.6) rotate(351.1)" d="M-3.2 -0.9 L3.2 -0.9M0.0 -3.5 L0.0 -0.9 L-2.9 3.2M0.0 -0.9 L3.0 3.2" fill="none" stroke="#4a57a8" stroke-width="1.25" stroke-linecap="round" stroke-linejoin="round"/>
<path transform="translate(1083.1 799.8) rotate(370.1)" d="M-1.8 -3.5 L-3.0 -1.4M-1.8 -2.3 L2.8 -2.3M-1.8 -0.9 L2.3 -0.9M-2.3 0.6 L2.0 0.6 L2.3 2.8 L3.3 3.1" fill="none" stroke="#4a57a8" stroke-width="1.25" stroke-linecap="round" stroke-linejoin="round"/>
<path transform="translate(1097.1 804.8) rotate(389.0)" d="M-2.8 -2.3 L-3.0 0.0M-3.3 -0.7 L-0.7 -1.1M-1.8 -3.5 L-1.8 3.2M0.2 -3.2 L-0.5 -0.9M0.2 -2.3 L3.1 -2.3 L2.8 2.6 L1.8 2.9M0.9 -2.0 L0.0 1.7M2.0 -2.0 L1.1 1.7" fill="none" stroke="#4a57a8" stroke-width="1.25" stroke-linecap="round" stroke-linejoin="round"/>
<path transform="translate(1108.7 814.0) rotate(407.9)" d="M-3.2 -2.3 L-0.9 -2.3M-2.0 -2.3 L-2.0 1.4M-3.2 0.0 L-0.9 0.0M-3.3 2.4 L-0.7 1.5M0.3 -3.0 L3.0 -3.0 L3.0 -0.5 L0.3 -0.5 L0.3 -3.0M0.3 -1.7 L3.0 -1.7M1.7 -3.0 L1.7 3.0M0.5 1.1 L2.9 1.1M0.0 3.1 L3.3 3.1" fill="none" stroke="#4a57a8" stroke-width="1.25" stroke-linecap="round" stroke-linejoin="round"/>
<path transform="translate(1116.7 826.5) rotate(426.8)" d="M-3.2 -2.8 L-0.7 -2.8M-2.1 -2.8 L-2.8 0.0M-2.8 -0.3 L-0.9 -0.3 L-0.9 2.3 L-2.8 2.3 L-2.8 -0.3M0.3 -2.8 L3.1 -2.8M-0.2 -0.2 L3.4 -0.2M0.9 -2.8 L0.6 3.2M2.4 -2.8 L2.4 3.2" fill="none" stroke="#4a57a8" stroke-width="1.25" stroke-linecap="round" stroke-linejoin="round"/>
<path transform="translate(1120.3 840.9) rotate(445.7)" d="M0.0 -3.6 L0.0 -2.7M-3.0 -0.9 L-3.0 -2.4 L3.0 -2.4 L3.0 -0.9M-1.1 -1.4 L-2.3 0.0M1.1 -1.4 L2.3 0.0M-2.0 0.9 L0.9 0.9M-0.6 0.9 L-2.8 3.4M0.9 0.9 L0.9 2.9 L3.3 2.9 L3.3 2.0" fill="none" stroke="#4a57a8" stroke-width="1.25" stroke-linecap="round" stroke-linejoin="round"/>
<path transform="translate(1118.9 855.7) rotate(464.6)" d="M-0.9 -3.3 L-2.9 -2.7M-2.9 -2.7 L-2.9 0.5 L-3.3 3.2M-2.9 -1.2 L-0.7 -1.2 L-0.7 0.5 L-2.9 0.5M3.1 -3.3 L0.6 -2.5 L0.6 0.0 L0.0 3.2M0.6 -0.7 L3.4 -0.7M2.1 -0.7 L2.1 3.3" fill="none" stroke="#4a57a8" stroke-width="1.25" stroke-linecap="round" stroke-linejoin="round"/>
</g>
<g fill="#fff" stroke="#fff" stroke-width="9" stroke-linejoin="round" filter="url(#wmblur)">
<path d="M 920.3 931.7 C 925.2 936.6 928.0 944.0 927.0 950.1 C 926.1 955.2 918.2 955.8 916.0 951.3 C 913.8 946.4 917.0 936.6 920.3 931.7 Z"/>
<path d="M 940.2 907.9 C 941.7 905.4 947.2 905.8 948.1 908.7 C 947.3 919.5 946.1 931.7 945.6 944.0 C 945.4 956.2 946.4 968.4 947.6 980.7 C 947.6 984.6 943.2 984.6 941.5 982.1 C 938.0 974.5 936.3 962.3 936.3 950.1 C 937.1 935.4 939.0 919.5 940.2 907.9 Z"/>
<path d="M 929.8 934.4 C 936.8 930.7 946.6 924.4 954.0 919.0 C 958.8 916.5 966.4 918.3 968.2 922.7 C 967.4 928.3 960.3 936.9 954.2 942.2 C 950.5 945.4 947.3 947.9 945.9 947.4 L 945.4 938.1 C 941.7 937.5 935.6 936.9 931.1 936.4 Z"/>
<path d="M 987.2 912.4 L 990.7 910.2 L 1001.9 918.5 L 1000.5 922.9 L 995.8 921.7 Z"/>
<path d="M 995.3 920.1 L 1002.9 919.5 L 1002.9 968.4 L 1001.7 973.9 L 996.2 973.3 L 995.0 963.5 Z"/>
<path d="M 983.9 929.9 L 1002.9 927.1 L 1002.9 933.9 L 985.2 935.6 Z"/>
<path d="M 990.7 941.8 L 1002.9 939.1 L 1002.9 947.6 L 992.5 949.1 Z"/>
<path d="M 981.9 955.0 L 1002.9 950.7 L 1002.9 959.6 L 983.3 961.3 Z"/>
<path d="M 989.4 961.1 L 995.8 961.7 L 989.7 972.3 L 983.9 970.3 Z"/>
<path d="M 1007.2 936.6 C 1009.0 931.7 1015.1 923.1 1022.5 917.6 C 1025.5 916.1 1028.6 917.0 1027.6 920.9 C 1024.9 924.4 1017.6 931.7 1011.5 939.7 Z"/>
<path d="M 1012.7 931.7 L 1019.1 931.7 C 1018.2 940.3 1016.4 947.6 1014.9 952.5 L 1010.5 963.8 L 1006.0 961.1 C 1009.0 952.5 1011.5 941.5 1012.7 931.7 Z"/>
<path d="M 1025.5 927.4 L 1033.0 929.5 C 1032.3 936.6 1031.7 944.0 1030.8 948.8 C 1029.2 958.6 1025.5 969.7 1021.5 976.5 L 1018.2 974.5 C 1021.3 967.2 1023.7 956.2 1024.9 946.4 Z"/>
<path d="M 1014.5 943.3 L 1027.4 940.5 L 1027.4 945.2 L 1015.1 947.9 Z"/>
<path d="M 1061.7 912.9 L 1066.8 918.3 L 1058.2 930.8 L 1066.3 937.8 L 1057.6 947.0 L 1063.6 951.4 L 1057.6 973.3 L 1052.5 972.6 L 1055.8 953.5 L 1052.0 945.9 L 1057.9 938.4 L 1052.0 930.8 L 1056.9 921.0 Z"/>
<path d="M 1065.5 940.5 L 1071.2 941.8 L 1070.5 973.3 L 1066.6 972.6 Z"/>
<path d="M 1070.9 951.4 L 1073.7 952.4 L 1073.3 960.0 L 1070.9 959.6 Z"/>
<path d="M 1073.1 921.6 L 1095.9 912.3 L 1105.6 912.9 L 1105.8 920.6 L 1095.9 920.6 L 1075.3 927.5 Z"/>
<path d="M 1097.5 916.7 L 1106.2 916.7 L 1108.0 977.4 L 1104.8 982.4 L 1100.2 980.6 L 1090.5 969.8 L 1092.4 968.7 L 1099.1 972.6 Z"/>
<path d="M 1073.7 924.3 L 1079.2 923.2 L 1080.3 962.4 L 1075.3 962.4 Z"/>
<path d="M 1076.4 927.5 L 1090.5 925.3 L 1091.1 929.9 L 1077.4 932.5 Z"/>
<path d="M 1078.5 938.4 L 1092.2 936.7 L 1092.2 941.3 L 1079.1 943.3 Z"/>
<path d="M 1079.1 958.9 L 1094.8 956.8 L 1094.8 962.9 L 1079.6 964.6 Z"/>
<path d="M 1083.9 927.5 L 1089.4 927.5 L 1090.0 960.0 L 1084.6 960.0 Z"/>
</g>
<g fill="#d6161f" stroke="#d6161f" stroke-width="1.0" stroke-linejoin="round">
<path d="M 920.3 931.7 C 925.2 936.6 928.0 944.0 927.0 950.1 C 926.1 955.2 918.2 955.8 916.0 951.3 C 913.8 946.4 917.0 936.6 920.3 931.7 Z"/>
<path d="M 940.2 907.9 C 941.7 905.4 947.2 905.8 948.1 908.7 C 947.3 919.5 946.1 931.7 945.6 944.0 C 945.4 956.2 946.4 968.4 947.6 980.7 C 947.6 984.6 943.2 984.6 941.5 982.1 C 938.0 974.5 936.3 962.3 936.3 950.1 C 937.1 935.4 939.0 919.5 940.2 907.9 Z"/>
<path d="M 929.8 934.4 C 936.8 930.7 946.6 924.4 954.0 919.0 C 958.8 916.5 966.4 918.3 968.2 922.7 C 967.4 928.3 960.3 936.9 954.2 942.2 C 950.5 945.4 947.3 947.9 945.9 947.4 L 945.4 938.1 C 941.7 937.5 935.6 936.9 931.1 936.4 Z"/>
<path d="M 987.2 912.4 L 990.7 910.2 L 1001.9 918.5 L 1000.5 922.9 L 995.8 921.7 Z"/>
<path d="M 995.3 920.1 L 1002.9 919.5 L 1002.9 968.4 L 1001.7 973.9 L 996.2 973.3 L 995.0 963.5 Z"/>
<path d="M 983.9 929.9 L 1002.9 927.1 L 1002.9 933.9 L 985.2 935.6 Z"/>
<path d="M 990.7 941.8 L 1002.9 939.1 L 1002.9 947.6 L 992.5 949.1 Z"/>
<path d="M 981.9 955.0 L 1002.9 950.7 L 1002.9 959.6 L 983.3 961.3 Z"/>
<path d="M 989.4 961.1 L 995.8 961.7 L 989.7 972.3 L 983.9 970.3 Z"/>
<path d="M 1007.2 936.6 C 1009.0 931.7 1015.1 923.1 1022.5 917.6 C 1025.5 916.1 1028.6 917.0 1027.6 920.9 C 1024.9 924.4 1017.6 931.7 1011.5 939.7 Z"/>
<path d="M 1012.7 931.7 L 1019.1 931.7 C 1018.2 940.3 1016.4 947.6 1014.9 952.5 L 1010.5 963.8 L 1006.0 961.1 C 1009.0 952.5 1011.5 941.5 1012.7 931.7 Z"/>
<path d="M 1025.5 927.4 L 1033.0 929.5 C 1032.3 936.6 1031.7 944.0 1030.8 948.8 C 1029.2 958.6 1025.5 969.7 1021.5 976.5 L 1018.2 974.5 C 1021.3 967.2 1023.7 956.2 1024.9 946.4 Z"/>
<path d="M 1014.5 943.3 L 1027.4 940.5 L 1027.4 945.2 L 1015.1 947.9 Z"/>
<path d="M 1061.7 912.9 L 1066.8 918.3 L 1058.2 930.8 L 1066.3 937.8 L 1057.6 947.0 L 1063.6 951.4 L 1057.6 973.3 L 1052.5 972.6 L 1055.8 953.5 L 1052.0 945.9 L 1057.9 938.4 L 1052.0 930.8 L 1056.9 921.0 Z"/>
<path d="M 1065.5 940.5 L 1071.2 941.8 L 1070.5 973.3 L 1066.6 972.6 Z"/>
<path d="M 1070.9 951.4 L 1073.7 952.4 L 1073.3 960.0 L 1070.9 959.6 Z"/>
<path d="M 1073.1 921.6 L 1095.9 912.3 L 1105.6 912.9 L 1105.8 920.6 L 1095.9 920.6 L 1075.3 927.5 Z"/>
<path d="M 1097.5 916.7 L 1106.2 916.7 L 1108.0 977.4 L 1104.8 982.4 L 1100.2 980.6 L 1090.5 969.8 L 1092.4 968.7 L 1099.1 972.6 Z"/>
<path d="M 1073.7 924.3 L 1079.2 923.2 L 1080.3 962.4 L 1075.3 962.4 Z"/>
<path d="M 1076.4 927.5 L 1090.5 925.3 L 1091.1 929.9 L 1077.4 932.5 Z"/>
<path d="M 1078.5 938.4 L 1092.2 936.7 L 1092.2 941.3 L 1079.1 943.3 Z"/>
<path d="M 1079.1 958.9 L 1094.8 956.8 L 1094.8 962.9 L 1079.6 964.6 Z"/>
<path d="M 1083.9 927.5 L 1089.4 927.5 L 1090.0 960.0 L 1084.6 960.0 Z"/>
</g>
<ellipse cx="948.1" cy="931.5" rx="2.2" ry="1.3" transform="rotate(-35 948.1 931.5)" fill="#fff"/>
<rect x="880" y="993.8" width="264" height="44" fill="url(#wmbar)"/>
<rect x="880" y="992.3" width="264" height="3" fill="url(#wmtop)"/>
<text transform="translate(912.4 1028.0) scale(0.694 1)" font-size="38.5" font-weight="bold" fill="#fff" stroke="#fff" stroke-width="1.2" stroke-linejoin="round">Chinanews.com</text>
</svg></body></html>
